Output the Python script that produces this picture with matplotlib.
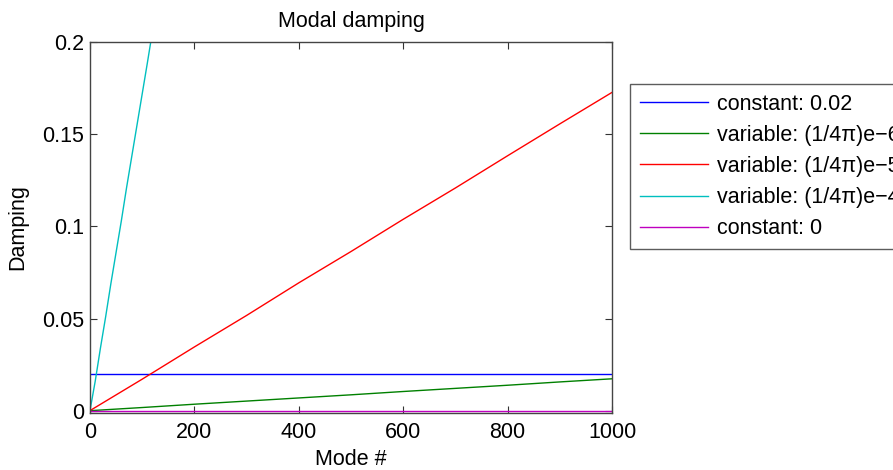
import numpy as np
import matplotlib.pyplot as plt

plt.rcParams['font.family'] = ['Liberation Sans', 'DejaVu Sans']

# values
modes = [1, 100, 200, 300, 400, 500, 600, 700, 800, 900, 1000]
red_vals = [0.0002, 0.0171, 0.0346, 0.0517, 0.0694, 0.0864, 0.1039, 0.1209, 0.1384, 0.1557, 0.1728]
green_vals = [0.0000, 0.0017, 0.0035, 0.0052, 0.0069, 0.0086, 0.0104, 0.0121, 0.0138, 0.0156, 0.0173]
cyan_modes = [1, 10, 20, 30, 40, 50, 60, 70, 80, 90, 100, 110, 118]
cyan_vals = [0.0017, 0.016, 0.034, 0.051, 0.069, 0.086, 0.103, 0.121, 0.138, 0.155, 0.172, 0.189, 0.203]
const_hi = 0.02
const_lo = 0.0

labels = ['constant: 0.02', 'variable: (1/4\u03c0)e\u22126', 'variable: (1/4\u03c0)e\u22125',
          'variable: (1/4\u03c0)e\u22124', 'constant: 0']

fs = 15.5

fig = plt.figure(figsize=(8.93, 4.70), dpi=100)
ax = fig.add_axes([90/893, 1 - 412.5/470, 522/893, 370.2/470])

ax.plot([1, 1000], [const_hi, const_hi], color=(0, 0, 1), lw=1, label=labels[0])
ax.plot(modes, green_vals, color=(0, 0.5, 0), lw=1, label=labels[1])
ax.plot(modes, red_vals, color=(1, 0, 0), lw=1, label=labels[2])
ax.plot(cyan_modes, cyan_vals, color=(0, 0.75, 0.75), lw=1, label=labels[3])
ax.plot([1, 1000], [const_lo, const_lo], color=(0.75, 0, 0.75), lw=1, label=labels[4])

ax.set_xlim(0, 1000)
ax.set_ylim(-0.001, 0.2)
ax.set_xticks([0, 200, 400, 600, 800, 1000])
ax.set_yticks([0, 0.05, 0.1, 0.15, 0.2])
ax.set_yticklabels(['0', '0.05', '0.1', '0.15', '0.2'])
ax.tick_params(direction='in', top=True, right=True, length=5, width=0.8,
               labelsize=fs, colors='#333333', labelcolor='black', pad=4)
ax.tick_params(axis='x', pad=7)
for s in ax.spines.values():
    s.set_color('#444444')
    s.set_linewidth(1)

ax.set_xlabel('Mode #', fontsize=fs, labelpad=4)
ax.set_ylabel('Damping', fontsize=fs, labelpad=10)
ax.set_title('Modal damping', fontsize=fs, pad=11)

leg = fig.legend(loc='upper left', bbox_to_anchor=(630/893, 1 - 84/470),
                 fontsize=fs, frameon=True, fancybox=False, handlelength=3.15,
                 handletextpad=0.45, borderpad=0.45, labelspacing=0.47, borderaxespad=0)
leg.get_frame().set_edgecolor('#333333')
leg.get_frame().set_linewidth(1)

fig.savefig('out.png', dpi=100)
